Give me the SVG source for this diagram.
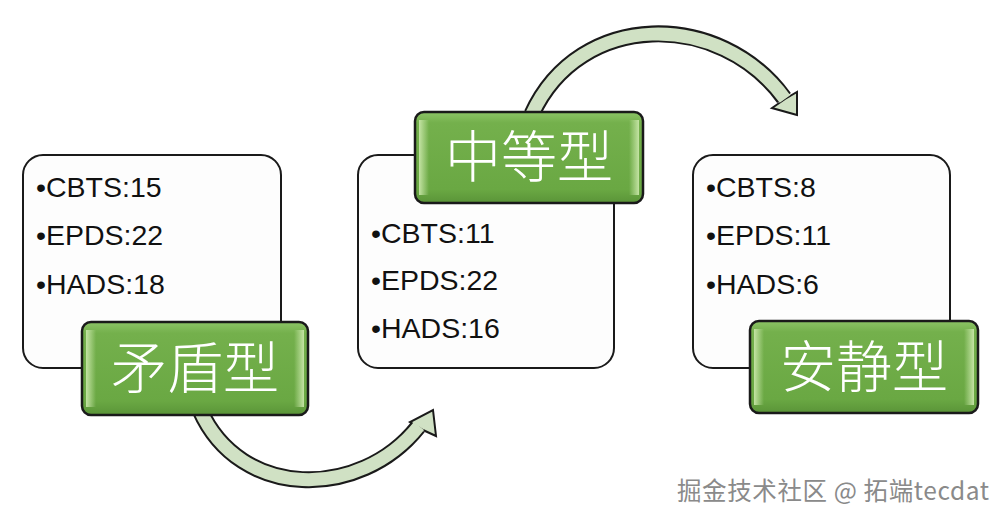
<svg xmlns="http://www.w3.org/2000/svg" width="1006" height="521" viewBox="0 0 1006 521">
<defs>
<linearGradient id="gg" x1="0" y1="0" x2="0" y2="1">
<stop offset="0" stop-color="#8cc466"/>
<stop offset="0.12" stop-color="#74b04c"/>
<stop offset="0.85" stop-color="#6aa843"/>
<stop offset="1" stop-color="#5a9438"/>
</linearGradient>
<linearGradient id="edge" x1="0" y1="0" x2="1" y2="0">
<stop offset="0" stop-color="#c8e6a8" stop-opacity="0.95"/>
<stop offset="1" stop-color="#c8e6a8" stop-opacity="0"/>
</linearGradient>
<linearGradient id="edgeR" x1="1" y1="0" x2="0" y2="0">
<stop offset="0" stop-color="#c8e6a8" stop-opacity="0.95"/>
<stop offset="1" stop-color="#c8e6a8" stop-opacity="0"/>
</linearGradient>
</defs>
<style>
.box{fill:#fdfdfd;stroke:#1a1a1a;stroke-width:2}
.lab{fill:url(#gg);stroke:#1a1a1a;stroke-width:2.5}
.item{font-family:"Liberation Sans",Arial,sans-serif;font-size:28.5px;fill:#111}
.cn{font-family:"Noto Sans CJK SC",sans-serif;font-size:56px;fill:#ffffff;font-weight:300;text-anchor:middle}
.outer{fill:none;stroke:#1a1a1a;stroke-width:17}
.inner{fill:none;stroke:#d0e1c4;stroke-width:13}
.head{fill:#d0e1c4;stroke:#1a1a1a;stroke-width:2;stroke-linejoin:miter}
.wm{font-family:"Noto Sans CJK SC",sans-serif;font-size:24.5px;fill:#8a8a8a}
</style>
<rect width="1006" height="521" fill="#ffffff"/>
<g id="connectors">
<path class="outer" d="M 200 410 C 240 500, 360 500, 418 427"/>
<polygon class="head" points="433,410 436,436 423,430 410,422"/>
<path class="inner" d="M 200 410 C 240 500, 360 500, 419 426"/>
<path class="outer" d="M 532 114 C 580 10, 720 10, 784 98"/>
<polygon class="head" points="797,115 772,108 785,99 797,92"/>
<path class="inner" d="M 532 114 C 580 10, 720 10, 785 99"/>
</g>
<g id="node-left">
<rect class="box" x="23" y="155" width="258" height="213" rx="20"/>
<text class="item" x="36" y="197">•CBTS:15</text>
<text class="item" x="36" y="245">•EPDS:22</text>
<text class="item" x="36" y="294">•HADS:18</text>
</g>
<g id="node-mid">
<rect class="box" x="358" y="155" width="256" height="213" rx="20"/>
<text class="item" x="371" y="243">•CBTS:11</text>
<text class="item" x="371" y="290">•EPDS:22</text>
<text class="item" x="371" y="338">•HADS:16</text>
</g>
<g id="node-right">
<rect class="box" x="693" y="155" width="257" height="213" rx="20"/>
<text class="item" x="706" y="197">•CBTS:8</text>
<text class="item" x="706" y="245">•EPDS:11</text>
<text class="item" x="706" y="294">•HADS:6</text>
</g>
<g id="label-left">
<rect class="lab" x="82" y="322" width="226" height="93" rx="9"/>
<rect x="86" y="330" width="10" height="77" fill="url(#edge)"/>
<rect x="294" y="330" width="10" height="77" fill="url(#edgeR)"/>
<text class="cn" x="195" y="388">矛盾型</text>
</g>
<g id="label-mid">
<rect class="lab" x="415" y="112" width="228" height="91" rx="9"/>
<rect x="419" y="120" width="10" height="75" fill="url(#edge)"/>
<rect x="629" y="120" width="10" height="75" fill="url(#edgeR)"/>
<text class="cn" x="529" y="177">中等型</text>
</g>
<g id="label-right">
<rect class="lab" x="750" y="321" width="228" height="92" rx="9"/>
<rect x="754" y="329" width="10" height="76" fill="url(#edge)"/>
<rect x="964" y="329" width="10" height="76" fill="url(#edgeR)"/>
<text class="cn" x="864" y="387">安静型</text>
</g>
<text class="wm" x="677" y="500" textLength="312" lengthAdjust="spacing">掘金技术社区 @ 拓端tecdat</text>
</svg>
